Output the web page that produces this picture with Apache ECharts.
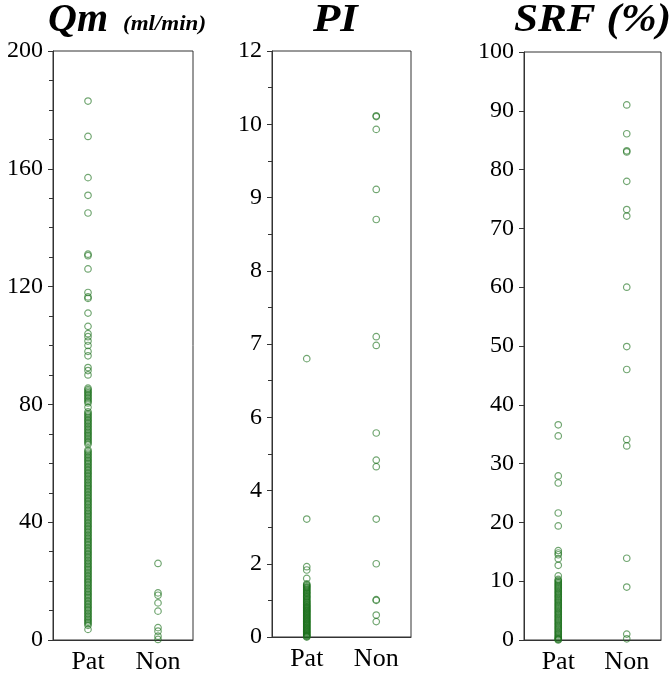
<!DOCTYPE html>
<html><head><meta charset="utf-8">
<script src="https://cdn.jsdelivr.net/npm/echarts@6/dist/echarts.min.js"></script>
<style>html,body{margin:0;padding:0;background:#fff}#c{width:669px;height:675px}</style>
</head><body><div id="c"></div>
<script>
const categories = ['Pat', 'Non'];

const qmTicks = [0, 40, 80, 120, 160, 200];
const qmPat = [183,171,157,151,145,131,130.5,126,118,116.5,116,111,106.5,104,103,101.5,100,98,96.5,92.5,91.5,90,
  85.5,85,84.5,84,83.5,83,82.5,82,81.5,81,80.5,79,77.5,77,76.5,76,75.5,75,74.5,74,73.5,73,72.5,72,71.5,71,70.5,70,
  69.5,69,68.5,68,67.5,67,66.5,64.5,64,63.5,63,62.5,62,61.5,61,60.5,60,59.5,59,58.5,58,57.5,57,56.5,56,55.5,55,
  54.5,54,53.5,53,52.5,52,51.5,51,50.5,50,49.5,49,48.5,48,47.5,47,46.5,46,45.5,45,44.5,44,43.5,43,42.5,42,41.5,
  41,40.5,40,39.5,39,38.5,38,37.5,37,36.5,36,35.5,35,34.5,34,33.5,33,32.5,32,31.5,31,30.5,30,29.5,29,28.5,28,27.5,
  27,26.5,26,25.5,25,24.5,24,23.5,23,22.5,22,21.5,21,20.5,20,19.5,19,18.5,18,17.5,17,16.5,16,15.5,15,14.5,14,13.5,
  13,12.5,12,11.5,11,10.5,10,9.5,9,8.5,8,7.5,7,6.5,6,5.5,5,3.6];
const qmNon = [26, 16, 15.2, 12.6, 9.8, 4.2, 3, 1.3, 0.2];

const piTicks = [0, 2, 4, 6, 7, 8, 9, 10, 12];
const piPat = [6.8, 3.22, 1.92, 1.83, 1.6, 1.45, 1.42, 1.4, 1.37, 1.35, 1.33, 1.3, 1.28, 1.25, 1.22, 1.2, 1.18,
  1.15, 1.12, 1.1, 1.08, 1.05, 1.02, 1.0, 0.97, 0.95, 0.93, 0.9, 0.88, 0.86, 0.84, 0.82, 0.8, 0.78, 0.76, 0.74,
  0.72, 0.7, 0.68, 0.66, 0.64, 0.62, 0.6, 0.58, 0.56, 0.54, 0.52, 0.5, 0.48, 0.46, 0.44, 0.42, 0.4, 0.38, 0.36,
  0.34, 0.32, 0.3, 0.28, 0.26, 0.24, 0.22, 0.2, 0.18, 0.16, 0.14, 0.12, 0.1, 0.08, 0.06, 0.04, 0.03, 0.01, 0.0];
const piNon = [10.23, 10.21, 9.93, 9.11, 8.7, 7.1, 6.98, 5.57, 4.83, 4.65, 3.22, 2.0, 1.02, 1.0, 0.6, 0.42];

const srfTicks = [0, 10, 20, 30, 40, 50, 60, 70, 80, 90, 100];
const srfPat = [36.6, 34.7, 27.9, 26.7, 21.6, 19.4, 15.2, 14.8, 14.5, 13.8, 12.7, 10.9, 10.3, 10.1, 9.9, 9.7,
  9.5, 9.3, 9.1, 8.9, 8.7, 8.5, 8.3, 8.1, 7.9, 7.7, 7.5, 7.3, 7.1, 6.9, 6.7, 6.5, 6.3, 6.1, 5.9, 5.7, 5.5, 5.3,
  5.1, 4.9, 4.7, 4.5, 4.3, 4.1, 3.9, 3.7, 3.5, 3.3, 3.1, 2.9, 2.7, 2.5, 2.3, 2.1, 1.9, 1.7, 1.5, 1.3, 1.1, 0.9,
  0.7, 0.5, 0.3, 0.2, 0.1, 0.0];
const srfNon = [91.0, 86.1, 83.2, 83.0, 78.0, 73.2, 72.1, 60.0, 49.9, 46.0, 34.1, 33.0, 13.9, 9.0, 1.0, 0.2];

function piPos(v) {
  for (let i = 0; i < piTicks.length - 1; i++) {
    if (v <= piTicks[i + 1]) return i + (v - piTicks[i]) / (piTicks[i + 1] - piTicks[i]);
  }
  return piTicks.length - 1;
}

const FONT = '"Liberation Serif", "Times New Roman", serif';
const AXC = '#333';
const grids = [
  { left: 53, width: 140, top: 51, bottom: 31 },
  { left: 272, width: 139, top: 51, bottom: 38 },
  { left: 524, width: 137, top: 52, bottom: 30 }
].map(g => Object.assign(g, { show: true, borderColor: AXC, borderWidth: 1, containLabel: false }));

const xAxes = [0, 1, 2].map(i => ({
  type: 'category', gridIndex: i, data: categories, boundaryGap: true,
  axisLine: { lineStyle: { color: AXC } },
  axisTick: { show: false },
  axisLabel: { color: '#000', fontFamily: FONT, fontSize: 26, margin: 9 }
}));

const yBase = {
  axisLine: { show: true, lineStyle: { color: AXC } },
  axisTick: { show: true, length: 5, lineStyle: { color: AXC } },
  splitLine: { show: false },
  axisLabel: { color: '#000', fontFamily: FONT, fontSize: 24, margin: 10 }
};
const yAxes = [
  Object.assign({}, yBase, { type: 'value', gridIndex: 0, min: qmTicks[0], max: qmTicks[qmTicks.length - 1], interval: 40,
    minorTick: { show: true, splitNumber: 4, length: 4, lineStyle: { color: AXC } } }),
  Object.assign({}, yBase, { type: 'value', gridIndex: 1, min: 0, max: piTicks.length - 1, interval: 1,
    minorTick: { show: true, splitNumber: 2, length: 4, lineStyle: { color: AXC } },
    axisLabel: Object.assign({}, yBase.axisLabel, { formatter: v => String(piTicks[Math.round(v)]) }) }),
  Object.assign({}, yBase, { type: 'value', gridIndex: 2, min: srfTicks[0], max: srfTicks[srfTicks.length - 1], interval: 10 })
];

const itemStyle = { color: 'rgba(0,0,0,0)', borderColor: 'rgba(28,112,28,0.78)', borderWidth: 1.2 };
function sc(i, cat, vals, f) {
  return { type: 'scatter', xAxisIndex: i, yAxisIndex: i, symbol: 'circle', symbolSize: 6.5, itemStyle,
    data: vals.map(v => [cat, f ? f(v) : v]), animation: false };
}

const chart = echarts.init(document.getElementById('c'), null, { renderer: 'canvas' });
chart.setOption({
  backgroundColor: '#fff',
  animation: false,
  grid: grids,
  xAxis: xAxes,
  yAxis: yAxes,
  graphic: [
    { type: 'text', left: 48, top: 1, style: { text: 'Qm', font: 'italic bold 40px ' + FONT, fill: '#000' } },
    { type: 'text', left: 123, top: 15, style: { text: '(ml/min)', font: 'italic bold 20px ' + FONT, fill: '#000' }, scaleX: 1.15 },
    { type: 'text', left: 313, top: 1, style: { text: 'PI', font: 'italic bold 40px ' + FONT, fill: '#000' }, scaleX: 1.12 },
    { type: 'text', left: 514, top: 1, style: { text: 'SRF (%)', font: 'italic bold 40px ' + FONT, fill: '#000' }, scaleX: 1.08 }
  ],
  series: [
    sc(0, 'Pat', qmPat), sc(0, 'Non', qmNon),
    sc(1, 'Pat', piPat, piPos), sc(1, 'Non', piNon, piPos),
    sc(2, 'Pat', srfPat), sc(2, 'Non', srfNon)
  ]
});
</script></body></html>
